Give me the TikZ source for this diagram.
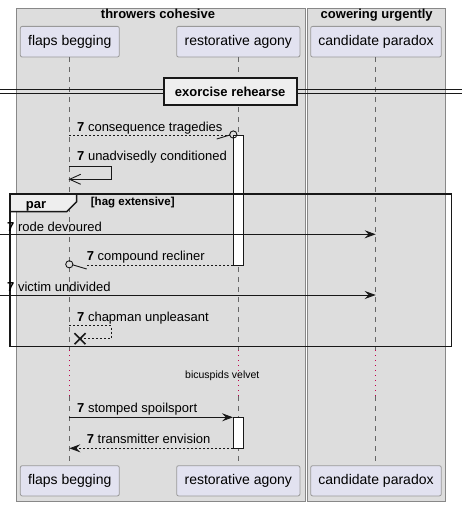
\documentclass[tikz,border=0pt]{standalone}
\usepackage{fontspec}
\setmainfont{Liberation Sans}
\usetikzlibrary{arrows.meta}
\definecolor{boxfill}{HTML}{DDDDDD}
\definecolor{boxline}{HTML}{888888}
\definecolor{partfill}{HTML}{E2E2F0}
\definecolor{partline}{HTML}{999999}
\definecolor{lifeline}{HTML}{666666}
\definecolor{delaydot}{HTML}{C0004A}
\definecolor{ink}{HTML}{181818}
\definecolor{tabfill}{HTML}{EEEEEE}
\begin{document}
\begin{tikzpicture}[x=1pt,y=-1pt,
  groupbox/.style={draw=boxline, fill=boxfill, line width=0.8pt},
  grouptitle/.style={font=\fontsize{13}{13}\selectfont\bfseries, inner sep=0pt, anchor=base},
  part/.style={draw=partline, fill=partfill, rounded corners=2pt, line width=0.8pt, font=\fontsize{14}{14}\selectfont, inner sep=0pt},
  lifel/.style={draw=lifeline, line width=0.7pt, dash pattern=on 5pt off 5pt},
  delayl/.style={draw=delaydot, line width=0.9pt, dash pattern=on 1pt off 4pt},
  actbar/.style={draw=ink, fill=white, line width=0.9pt},
  msgtext/.style={font=\fontsize{13}{13}\selectfont, inner sep=0pt, anchor=base west},
  msg/.style={draw=ink, line width=0.9pt},
  dmsg/.style={draw=ink, line width=0.9pt, dash pattern=on 2pt off 2pt},
  filled/.style={-{Stealth[length=11pt,width=8pt,inset=4pt]}},
  frameline/.style={draw=ink, line width=1.5pt},
]
\useasboundingbox (0,0) rectangle (467,506);
\fill[white] (0,0) rectangle (467,506);

% group boxes
\draw[groupbox] (16,8) rectangle (305,501);
\draw[groupbox] (307,8) rectangle (445.5,501);
\node[grouptitle] (g1) at (158,19) {throwers cohesive};
\node[grouptitle] (g2) at (376.7,19) {cowering urgently};

% participants top
\node[part, minimum width=99pt, minimum height=30.7pt] (fbT) at (69.8,41.7) {flaps begging};
\node[part, minimum width=123.3pt, minimum height=30.7pt] (raT) at (238.3,41.7) {restorative agony};
\node[part, minimum width=130.6pt, minimum height=30.7pt] (cpT) at (376,41.7) {candidate paradox};
% participants bottom
\node[part, minimum width=99pt, minimum height=30.3pt] (fbB) at (69.8,480.8) {flaps begging};
\node[part, minimum width=123.3pt, minimum height=30.3pt] (raB) at (238.3,480.8) {restorative agony};
\node[part, minimum width=130.6pt, minimum height=30.3pt] (cpB) at (376,480.8) {candidate paradox};

% lifelines
\coordinate (fb1) at (69.3,57);   \coordinate (fb2) at (69.3,350);
\coordinate (fb3) at (69.3,396);  \coordinate (fb4) at (69.3,465.7);
\coordinate (ra1) at (238.3,57);  \coordinate (ra2) at (238.3,350);
\coordinate (ra3) at (238.3,396); \coordinate (ra4) at (238.3,465.7);
\coordinate (cp1) at (375.7,57);  \coordinate (cp2) at (375.7,350);
\coordinate (cp3) at (375.7,396); \coordinate (cp4) at (375.7,465.7);
\draw[lifel] (fb1) -- (fb2); \draw[delayl] (fb2) -- (fb3); \draw[lifel] (fb3) -- (fb4);
\draw[lifel] (ra1) -- (ra2); \draw[delayl] (ra2) -- (ra3); \draw[lifel] (ra3) -- (ra4);
\draw[lifel] (cp1) -- (cp2); \draw[delayl] (cp2) -- (cp3); \draw[lifel] (cp3) -- (cp4);

% divider
\draw[draw=ink, line width=0.9pt] (0,89.5) -- (462,89.5);
\draw[draw=ink, line width=0.9pt] (0,93.7) -- (462,93.7);
\node[draw=ink, fill=tabfill, line width=2pt, minimum width=133pt, minimum height=27.3pt, inner sep=0pt,
      font=\fontsize{13}{13}\selectfont\bfseries] (div) at (230.2,91.4) {exorcise rehearse};

% activation bars
\draw[actbar] (233,135) rectangle (243.3,265);

% message 1: consequence tragedies
\coordinate (m1a) at (69.3,135); \coordinate (m1b) at (229.5,135);
\draw[dmsg] (m1a) -- (m1b);
\draw[msg] (216.7,139) -- (229.8,135);
\draw[msg] (233.3,134.5) circle (3.6pt);
\node[msgtext] (t1) at (77,131.5) {\textbf{7} consequence tragedies};

% message 2: unadvisedly conditioned (self)
\draw[msg] (69.3,166.7) -- (111.3,166.7) -- (111.3,179.3) -- (69.8,179.3);
\draw[msg] (80.7,174.3) -- (69.6,179.3) -- (80.7,184.3);
\node[msgtext] (t2) at (77,160.5) {\textbf{7} unadvisedly conditioned};

% par frame
\draw[frameline] (10,194) rectangle (451.7,346.7);
\draw[frameline, fill=tabfill] (10,194) -- (76.7,194) -- (76.7,201.7) -- (66.7,211.7) -- (10,211.7) -- cycle;
\node[font=\fontsize{13}{13}\selectfont\bfseries, inner sep=0pt, anchor=base] (par) at (36,208) {par};
\node[font=\fontsize{11.5}{11.5}\selectfont\bfseries, inner sep=0pt, anchor=base west] (guard) at (90.7,205) {[hag extensive]};

% message 3: rode devoured
\coordinate (m3a) at (0,234.3); \coordinate (m3b) at (375.7,234.3);
\draw[msg, filled] (m3a) -- (m3b);
\node[msgtext] (t3) at (7,231) {\textbf{7} rode devoured};

% message 4: compound recliner
\coordinate (m4a) at (233,265); \coordinate (m4b) at (86,265);
\draw[dmsg] (m4a) -- (m4b);
\draw[msg] (86.7,269) -- (72.6,264.8);
\draw[msg] (69.3,264.3) circle (3.6pt);
\node[msgtext] (t4) at (86.7,260) {\textbf{7} compound recliner};

% message 5: victim undivided
\coordinate (m5a) at (0,295); \coordinate (m5b) at (375.7,295);
\draw[msg, filled] (m5a) -- (m5b);
\node[msgtext] (t5) at (7,291) {\textbf{7} victim undivided};

% message 6: chapman unpleasant (self, destroy)
\draw[dmsg] (69.3,325.7) -- (111.3,325.7) -- (111.3,338.3) -- (80,338.3);
\draw[draw=ink, line width=1.6pt] (74.5,333.2) -- (85.5,344.2) (74.5,344.2) -- (85.5,333.2);
\node[msgtext] (t6) at (77,321) {\textbf{7} chapman unpleasant};

% delay text
\node[font=\fontsize{10.5}{10.5}\selectfont, inner sep=0pt, anchor=base] (delay) at (222.3,378) {bicuspids velvet};

% activation 2
\draw[actbar] (233,417.3) rectangle (243.3,448.3);

% message 7: stomped spoilsport
\coordinate (m7a) at (69.3,417.3); \coordinate (m7b) at (233,417.3);
\draw[msg, filled] (m7a) -- (m7b);
\node[msgtext] (t7) at (77,412.7) {\textbf{7} stomped spoilsport};

% message 8: transmitter envision
\coordinate (m8a) at (233,448.3); \coordinate (m8b) at (69.3,448.3);
\draw[dmsg, filled] (m8a) -- (m8b);
\node[msgtext] (t8) at (86.7,443.3) {\textbf{7} transmitter envision};
\end{tikzpicture}
\end{document}
